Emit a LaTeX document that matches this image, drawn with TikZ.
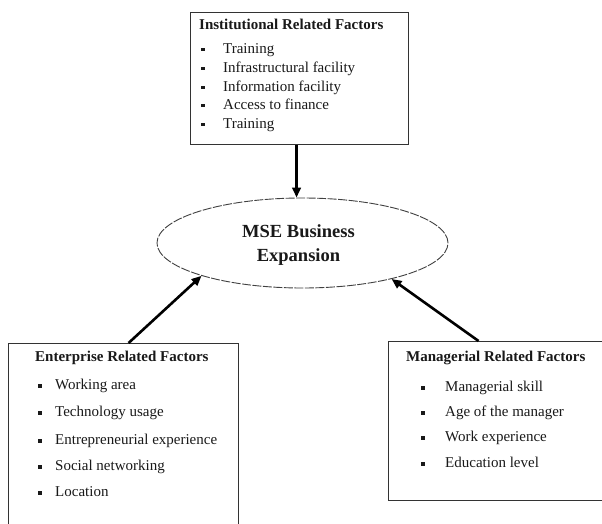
\documentclass[tikz,border=0pt]{standalone}
\usepackage{fontspec}
\setmainfont{Liberation Serif}
\usetikzlibrary{shapes.geometric,arrows.meta}
\begin{document}
\begin{tikzpicture}[x=1pt,y=-1pt,
  box/.style={draw=black!80, line width=1.1pt, inner sep=0pt, anchor=north west},
  ellbox/.style={ellipse, draw=black!75, line width=0.9pt, dash pattern=on 9pt off 1.5pt, inner sep=0pt},
  ttl/.style={anchor=west, inner sep=0pt, font=\fontsize{15}{18}\selectfont\bfseries, text=black!90, text height=10.5pt, text depth=3pt},
  itm/.style={anchor=west, inner sep=0pt, font=\fontsize{15}{18}\selectfont, text=black!90, text height=10.5pt, text depth=3pt},
  etx/.style={inner sep=0pt, font=\fontsize{18.5}{22}\selectfont\bfseries, text=black!90, text height=13pt, text depth=4pt},
  blt/.style={fill=black!90, inner sep=0pt, minimum size=3.6pt, yshift=0.3pt},
  arr/.style={-{Triangle[length=10pt,width=8.5pt]}, line width=2.6pt, black}
]
\clip (0,0) rectangle (602,524);
\fill[white] (0,0) rectangle (602,524);

% boxes
\node[box, minimum width=218pt, minimum height=132pt] (inst) at (190,12) {};
\node[box, minimum width=230pt, minimum height=200pt] (lbox) at (8,343) {};
\node[box, minimum width=230pt, minimum height=159pt] (rbox) at (388,341) {};
\node[ellbox, minimum width=291pt, minimum height=90pt] (ell) at (302.5,243) {};

% institutional
\node[ttl] (t1) at (199,26) {Institutional Related Factors};
\node[blt] (b1a) at (203,50) {};  \node[itm] (i1a) at (223,50) {Training};
\node[blt] (b1b) at (203,69) {};  \node[itm] (i1b) at (223,69) {Infrastructural facility};
\node[blt] (b1c) at (203,88) {};  \node[itm] (i1c) at (223,88) {Information facility};
\node[blt] (b1d) at (203,106) {}; \node[itm] (i1d) at (223,106) {Access to finance};
\node[blt] (b1e) at (203,125) {}; \node[itm] (i1e) at (223,125) {Training};

% ellipse text
\node[etx] (e1) at (298.5,233) {MSE Business};
\node[etx] (e2) at (298.5,257) {Expansion};

% enterprise
\node[ttl] (t2) at (35,358) {Enterprise Related Factors};
\node[blt] (b2a) at (40,386) {}; \node[itm] (i2a) at (55,386) {Working area};
\node[blt] (b2b) at (40,413) {}; \node[itm] (i2b) at (55,413) {Technology usage};
\node[blt] (b2c) at (40,441) {}; \node[itm] (i2c) at (55,441) {Entrepreneurial experience};
\node[blt] (b2d) at (40,467) {}; \node[itm] (i2d) at (55,467) {Social networking};
\node[blt] (b2e) at (40,493) {}; \node[itm] (i2e) at (55,493) {Location};

% managerial
\node[ttl] (t3) at (406,358) {Managerial Related Factors};
\node[blt] (b3a) at (423,388) {}; \node[itm] (i3a) at (445,388) {Managerial skill};
\node[blt] (b3b) at (423,413) {}; \node[itm] (i3b) at (445,413) {Age of the manager};
\node[blt] (b3c) at (423,438) {}; \node[itm] (i3c) at (445,438) {Work experience};
\node[blt] (b3d) at (423,464) {}; \node[itm] (i3d) at (445,464) {Education level};

% arrows
\draw[arr] ([xshift=-3pt]inst.south) -- ([xshift=-3pt]inst.south |- ell.north);
\draw[arr] ([xshift=5pt]lbox.north) -- (ell.198);
\draw[arr] ([xshift=-25pt]rbox.north) -- (ell.338);
\end{tikzpicture}
\end{document}
